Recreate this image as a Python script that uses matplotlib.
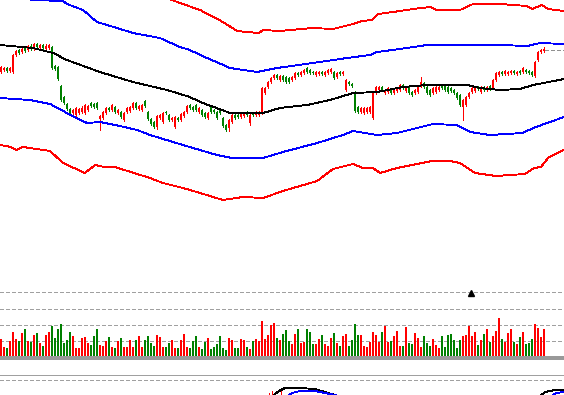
import numpy as np
import matplotlib
matplotlib.use("Agg")
import matplotlib.pyplot as plt

# ---------------- data (price units, day index) ----------------
opens = [228, 230, 232, 229, 228, 245, 250, 248, 252, 250,
         254, 251, 256, 252, 255, 251, 252, 253, 234, 233,
         214, 203, 196, 191, 187, 185, 187, 188, 187, 190,
         197, 196, 197, 181, 182, 187, 192, 190, 193, 187,
         188, 180, 188, 189, 192, 197, 191, 190, 199, 188,
         181, 178, 173, 182, 178, 188, 185, 180, 173, 182,
         180, 184, 188, 195, 193, 195, 188, 190, 187, 182,
         193, 190, 188, 190, 182, 175, 172, 178, 185, 185,
         183, 184, 188, 177, 187, 185, 185, 187, 207, 213,
         218, 222, 225, 220, 224, 223, 222, 220, 222, 227,
         225, 227, 232, 230, 228, 225, 226, 228, 225, 227,
         228, 228, 223, 228, 226, 210, 218, 216, 208, 193,
         188, 187, 188, 188, 182, 207, 210, 213, 207, 208,
         210, 207, 209, 210, 215, 209, 212, 208, 207, 208,
         214, 217, 213, 210, 207, 208, 210, 215, 215, 213,
         212, 210, 207, 205, 193, 195, 203, 208, 209, 213,
         208, 213, 210, 214, 212, 220, 225, 228, 226, 226,
         227, 229, 226, 229, 228, 230, 229, 228, 224, 240,
         248, 249]
closes = [233, 232, 229, 232, 245, 249, 247, 251, 249, 254,
          251, 256, 253, 255, 252, 254, 255, 232, 231, 221,
          200, 197, 191, 187, 190, 192, 191, 192, 195, 194,
          194, 193, 192, 184, 188, 192, 190, 195, 188, 190,
          183, 187, 192, 193, 197, 192, 194, 195, 194, 181,
          176, 173, 184, 185, 187, 187, 180, 182, 183, 180,
          186, 188, 194, 192, 190, 190, 192, 185, 183, 187,
          188, 188, 182, 187, 174, 170, 180, 185, 182, 183,
          187, 187, 185, 185, 185, 188, 188, 212, 212, 218,
          222, 225, 222, 224, 220, 218, 218, 223, 227, 225,
          228, 230, 228, 227, 227, 228, 228, 226, 228, 230,
          231, 222, 227, 226, 228, 220, 216, 214, 189, 188,
          192, 192, 192, 193, 207, 213, 213, 210, 210, 212,
          207, 210, 212, 215, 212, 212, 207, 205, 210, 213,
          218, 213, 207, 205, 212, 213, 213, 212, 210, 208,
          209, 207, 202, 195, 200, 203, 207, 212, 212, 211,
          213, 210, 213, 211, 220, 227, 228, 226, 229, 228,
          229, 227, 228, 227, 232, 228, 227, 225, 238, 248,
          250, 251]
highs = [234, 233, 233, 233, 246, 250, 251, 252, 253, 255,
         256, 257, 257, 256, 256, 256, 256, 254, 235, 234,
         215, 204, 197, 192, 191, 193, 192, 194, 196, 195,
         198, 197, 198, 185, 189, 193, 193, 196, 194, 191,
         189, 188, 193, 194, 198, 198, 195, 196, 200, 189,
         182, 179, 185, 186, 188, 189, 186, 183, 184, 183,
         187, 189, 195, 196, 194, 196, 193, 191, 188, 188,
         195, 191, 189, 191, 183, 176, 181, 186, 186, 186,
         188, 188, 189, 186, 188, 189, 189, 213, 213, 219,
         223, 226, 226, 225, 225, 224, 223, 224, 228, 228,
         229, 231, 233, 231, 229, 229, 229, 229, 229, 231,
         232, 229, 228, 229, 229, 221, 219, 217, 209, 194,
         193, 193, 193, 194, 208, 214, 214, 214, 211, 213,
         211, 211, 213, 216, 216, 213, 213, 209, 211, 214,
         223, 218, 214, 211, 213, 214, 214, 216, 216, 214,
         213, 211, 208, 206, 201, 204, 208, 213, 213, 214,
         214, 214, 214, 215, 221, 228, 229, 229, 230, 229,
         230, 230, 229, 230, 233, 231, 230, 229, 239, 249,
         251, 253]
lows = [227, 229, 228, 228, 227, 244, 246, 247, 248, 249,
        250, 250, 252, 251, 251, 250, 251, 231, 230, 220,
        199, 196, 190, 186, 186, 184, 186, 187, 186, 189,
        193, 192, 191, 170, 181, 186, 189, 189, 187, 186,
        182, 179, 187, 188, 191, 191, 190, 189, 193, 180,
        175, 172, 171, 181, 177, 186, 179, 179, 172, 179,
        179, 183, 187, 191, 189, 189, 187, 184, 182, 181,
        187, 187, 181, 186, 173, 169, 169, 177, 181, 182,
        182, 183, 184, 175, 184, 184, 184, 186, 206, 212,
        217, 221, 221, 219, 219, 217, 217, 219, 221, 224,
        224, 226, 227, 226, 226, 224, 225, 225, 224, 226,
        227, 221, 222, 225, 225, 209, 215, 213, 188, 187,
        187, 186, 187, 187, 181, 206, 209, 209, 206, 207,
        206, 206, 208, 209, 211, 208, 206, 204, 206, 207,
        213, 212, 206, 204, 206, 207, 209, 211, 209, 207,
        208, 206, 201, 194, 180, 194, 202, 207, 208, 210,
        207, 209, 209, 210, 211, 219, 224, 225, 225, 225,
        226, 226, 225, 226, 227, 227, 226, 224, 223, 239,
        247, 248]
volumes = [19, 11, 10, 17, 26, 19, 17, 25, 29, 17,
           16, 23, 25, 15, 12, 23, 26, 32, 20, 29,
           34, 15, 18, 26, 22, 10, 10, 20, 21, 15,
           13, 22, 29, 13, 12, 17, 21, 11, 10, 17,
           20, 11, 11, 18, 11, 18, 22, 11, 18, 22,
           15, 12, 23, 21, 11, 11, 15, 18, 10, 10,
           18, 24, 11, 10, 17, 22, 11, 9, 16, 20,
           9, 11, 14, 22, 10, 8, 20, 18, 10, 10,
           19, 18, 11, 9, 17, 19, 17, 37, 19, 23,
           33, 35, 20, 18, 24, 28, 17, 14, 24, 29,
           15, 16, 29, 26, 14, 14, 19, 23, 14, 12,
           20, 25, 15, 12, 22, 24, 12, 18, 34, 23,
           23, 12, 11, 16, 26, 23, 16, 26, 32, 16,
           17, 22, 27, 12, 12, 31, 15, 14, 25, 20,
           11, 22, 15, 12, 19, 13, 10, 22, 11, 23,
           24, 18, 10, 18, 22, 23, 32, 22, 26, 13,
           18, 24, 29, 16, 22, 27, 40, 19, 16, 25,
           29, 16, 14, 21, 26, 14, 15, 19, 34, 30,
           21, 29]

# moving average and bands: (day index, value)
ma_x = [-0.5, 10.5, 17.2, 21.8, 32.8, 43.8, 55.2, 62.8, 66.2, 76.2, 87.2, 92.8,
        101.8, 109.5, 117.2, 125.2, 133.8, 141.8, 155.2, 159.5, 166.2, 172.8, 177.2, 187.5]
ma_y = [255, 252, 247, 240, 228, 218, 210, 203, 198, 187, 187, 192,
        195, 200, 207, 208, 213, 215, 215, 212, 210, 211, 215, 221]

up1_x = [-0.5, 10.2, 20.5, 21.8, 27.2, 31.8, 38.5, 43.8, 52.8, 59.5, 62.8, 66.2, 76.2,
         85.2, 91.8, 103.8, 115.2, 122.8, 125.2, 132.8, 141.8, 155.2, 166.2, 175.2, 179.5, 187.5]
up1_y = [308, 300, 299, 296, 290, 278, 272, 267, 262, 253, 250, 245, 232,
         228, 232, 237, 242, 245, 248, 251, 255, 255, 255, 254, 257, 256]

dn1_x = [-0.5, 9.5, 16.2, 21.8, 28.5, 32.8, 39.5, 45.2, 49.5, 60.5, 71.8, 76.8, 87.2,
         93.8, 105.2, 113.8, 117.2, 125.2, 131.8, 143.8, 151.8, 156.2, 162.8, 173.8,
         177.2, 182.8, 187.5]
dn1_y = [202, 200, 196, 187, 177, 178, 174, 170, 165, 155, 145, 142, 142,
         148, 157, 165, 169, 165, 167, 176, 175, 168, 165, 167,
         172, 178, 183]

up2_x = [-0.5, 16.2, 32.8, 49.5, 56.8, 59.5, 66.2, 73.8, 78.5, 81.8, 85.8, 87.2, 92.8,
         103.8, 110.5, 117.2, 120.2, 123.5, 125.5, 130.5, 137.2, 142.8, 145.2, 152.8,
         157.2, 166.2, 175.2, 176.8, 180.2, 182.2, 187.5]
up2_y = [356, 346, 326, 308, 300, 297, 290, 278, 269, 268, 267, 270, 269,
         272, 271, 276, 279, 280, 286, 288, 291, 293, 290, 290,
         296, 296, 294, 291, 295, 291, 289]

dn2_x = [-0.5, 3.2, 4.8, 7.2, 16.2, 20.5, 27.8, 31.2, 34.2, 37.8, 49.5, 53.8, 60.5,
         66.2, 73.8, 80.5, 87.2, 93.8, 105.2, 110.5, 117.2, 120.5, 123.8, 126.2,
         131.8, 143.5, 149.5, 152.8, 157.8, 164.8, 174.5, 177.5, 179.8, 182.5, 187.5]
dn2_y = [155, 153, 150, 153, 149, 137, 127, 135, 133, 133, 122, 117, 112,
         107, 100, 103, 102, 109, 119, 131, 136, 132, 132, 127,
         132, 139, 139, 137, 127, 124, 126, 132, 133, 143, 150]

# lower indicator panel (mostly cut off)
dif_x = [89.5, 92.5, 94.5, 99.5, 104.5, 107.8, 111.2, 113.5]
dif_y = [2, 9, 12, 12, 11, 8, 5, 2]
dea_x = [94.5, 96.8, 99.5, 104.5, 107.8, 111.2, 113.5]
dea_y = [2, 7, 9, 9, 7, 5, 3]
dif2_x = [178.8, 181.2, 184.5, 187.5]
dif2_y = [2, 8, 10, 10]
dea2_x = [182.8, 184.8, 187.5]
dea2_y = [2, 7, 8]
hist_x = [89, 90, 91, 92, 93]
hist_y = [7, 9, 8, 5, 9]

vol_grid = [16.2, 32.2, 48.2, 65.8]
mark_x, mark_y = 156.5, 64.5

RED = '#ff0000'
GREEN = '#008000'
BLUE = '#0000ff'
GRID = '#a0a0a0'

plt.rcParams['lines.antialiased'] = False
plt.rcParams['patch.antialiased'] = False

W, H = 564, 395
fig = plt.figure(figsize=(W / 100, H / 100), dpi=100)
fig.patch.set_facecolor('white')


def panel(top, bottom):
    ax = fig.add_axes([0, 1 - bottom / H, 1, (bottom - top) / H])
    ax.set_xlim(-0.5, 187.5)
    ax.axis('off')
    return ax


ax = panel(0, 283)
axv = panel(283, 360)
axm = panel(360, 395)

o = np.array(opens)
c = np.array(closes)
x = np.arange(len(o))
up = c >= o
cols = np.where(up, RED, GREEN)

# candles: 2px bodies, 1px wick on the left column
ax.vlines(x - 0.33, lows, highs, colors=cols, lw=0.72, zorder=2)
body = np.where(np.abs(c - o) < 1, 1, c - o)
ax.bar(x - 0.1, body, bottom=o, width=0.67, color=cols, linewidth=0, zorder=2)

lw = 0.65
ax.plot(ma_x, ma_y, color='black', lw=lw, zorder=3)
ax.plot(up1_x, up1_y, color=BLUE, lw=lw, zorder=3)
ax.plot(dn1_x, dn1_y, color=BLUE, lw=lw, zorder=3)
ax.plot(up2_x, up2_y, color=RED, lw=lw, zorder=3)
ax.plot(dn2_x, dn2_y, color=RED, lw=lw, zorder=3)
ax.plot([x[-1] + 0.3, 187.5], [closes[-1] - 1, closes[-1] - 1], color='#909090',
        lw=0.72, ls=(0, (4, 2.5)))
ax.set_ylim(17, 300)

# volume
for g in vol_grid:
    axv.axhline(g, color=GRID, lw=0.72, ls=(0, (4, 2.5)), zorder=0)
axv.bar(x - 0.1, volumes, width=0.67, color=cols, linewidth=0, zorder=2)
axv.axhline(-0.3, color='#999999', lw=1.5, zorder=3)
axv.plot(mark_x, mark_y, marker='^', color='black', ms=4.5, zorder=4)
axv.set_ylim(-2.5, 74.5)

# lower panel
axm.axhline(25.5, color=GRID, lw=0.72)
axm.axhline(20.5, color=GRID, lw=0.72, ls=(0, (4, 2.5)))
axm.vlines(hist_x, 0, hist_y, colors=RED, lw=0.72)
axm.plot(dif_x, dif_y, color='black', lw=lw)
axm.plot(dea_x, dea_y, color=BLUE, lw=lw)
axm.plot(dif2_x, dif2_y, color='black', lw=lw)
axm.plot(dea2_x, dea2_y, color=BLUE, lw=lw)
axm.set_ylim(5, 40)

fig.savefig('out.png', dpi=100, facecolor='white')
